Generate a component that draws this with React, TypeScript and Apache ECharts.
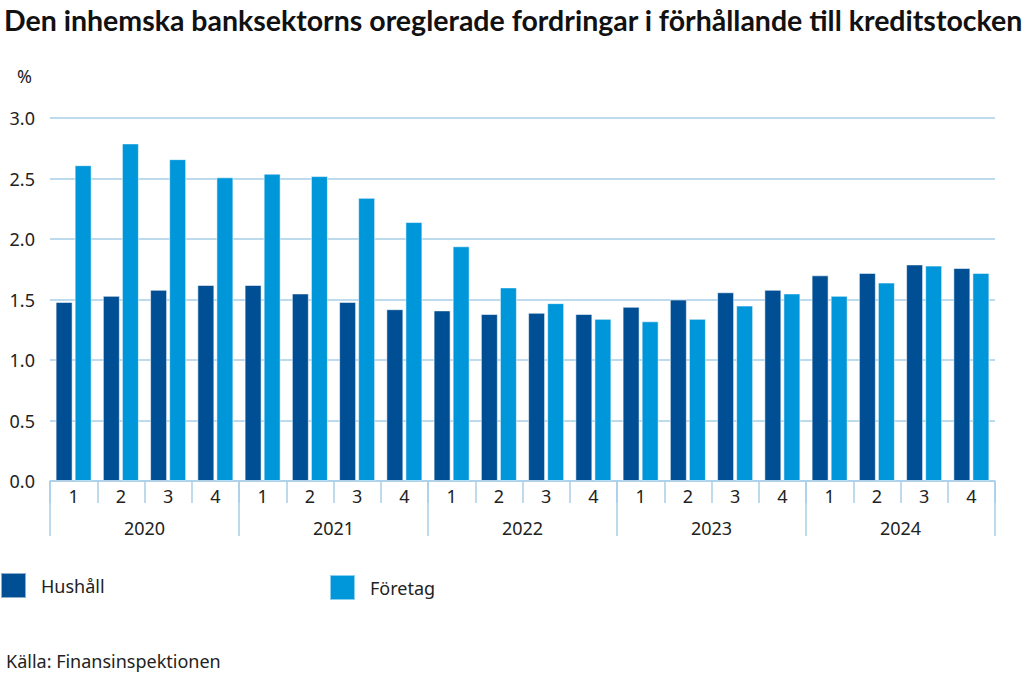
import React, { useEffect, useRef } from "react";
import * as echarts from "echarts";

const quarters = ["1","2","3","4","1","2","3","4","1","2","3","4","1","2","3","4","1","2","3","4"];
const years = ["2020", "2021", "2022", "2023", "2024"];
const hushall = [1.48,1.53,1.58,1.62, 1.62,1.55,1.48,1.42, 1.41,1.38,1.39,1.38, 1.44,1.50,1.56,1.58, 1.70,1.72,1.79,1.76];
const foretag = [2.61,2.79,2.66,2.51, 2.54,2.52,2.34,2.14, 1.94,1.60,1.47,1.34, 1.32,1.34,1.45,1.55, 1.53,1.64,1.78,1.72];
const yTicks = [0, 0.5, 1, 1.5, 2, 2.5, 3];

const DARK = "#004f95";
const LIGHT = "#0096da";
const GRID = "#a9cfe8";
const FONT = "'Noto Sans', sans-serif";
const FS = 18;

export default function App() {
  const ref = useRef<HTMLDivElement>(null);
  useEffect(() => {
    const chart = echarts.init(ref.current!, null, { renderer: "svg" });
    chart.setOption({
      animation: false,
      backgroundColor: "#ffffff",
      textStyle: { fontFamily: FONT },
      title: [
        {
          text: "Den inhemska banksektorns oreglerade fordringar i förhållande till kreditstocken",
          left: -1,
          top: 0,
          textStyle: { fontFamily: "Lato, sans-serif", fontWeight: "bold", fontSize: 28.5, color: "#111" },
        },
        {
          text: "%",
          left: 12,
          top: 62,
          textStyle: { fontFamily: FONT, fontWeight: "normal", fontSize: FS, color: "#222" },
        },
        {
          text: "Källa: Finansinspektionen",
          left: 1,
          top: 647,
          textStyle: { fontFamily: FONT, fontWeight: "normal", fontSize: FS, color: "#222" },
        },
      ],
      legend: [
        {
          data: ["Hushåll"],
          left: 0,
          top: 572,
          itemWidth: 25,
          itemHeight: 25,
          itemGap: 0,
          icon: "rect",
          textStyle: { fontFamily: FONT, fontSize: FS, color: "#222", padding: [0, 0, 0, 10] },
          padding: 0,
        },
        {
          data: ["Företag"],
          left: 329,
          top: 574,
          itemWidth: 25,
          itemHeight: 25,
          itemGap: 0,
          icon: "rect",
          textStyle: { fontFamily: FONT, fontSize: FS, color: "#222", padding: [0, 0, 0, 10] },
          padding: 0,
        },
      ],
      grid: { left: 50, right: 32, top: 118, bottom: 200, containLabel: false },
      xAxis: [
        {
          type: "category",
          data: quarters,
          position: "bottom",
          axisLine: { show: true, lineStyle: { color: GRID, width: 1.5 } },
          axisTick: { show: true, interval: 0, length: 22, lineStyle: { color: GRID, width: 1.5 } },
          axisLabel: { interval: 0, margin: 6, fontSize: FS, color: "#222", fontFamily: FONT },
        },
        {
          type: "category",
          data: years,
          position: "bottom",
          axisLine: { show: false },
          axisTick: { show: true, interval: 0, length: 55, lineStyle: { color: GRID, width: 1.5 } },
          axisLabel: { interval: 0, margin: 38, fontSize: FS, color: "#222", fontFamily: FONT },
        },
      ],
      yAxis: {
        type: "value",
        min: 0,
        max: 3,
        interval: 0.5,
        axisLine: { show: false },
        axisTick: { show: false },
        axisLabel: {
          margin: 15,
          fontSize: FS,
          color: "#222",
          fontFamily: FONT,
          formatter: (v: number) => (yTicks.includes(v) ? v.toFixed(1) : ""),
        },
        splitLine: { show: true, lineStyle: { color: GRID, width: 1.5 } },
      },
      series: [
        {
          name: "Hushåll",
          type: "bar",
          data: hushall,
          barWidth: 17,
          barGap: "12%",
          itemStyle: { color: DARK, borderColor: "rgba(255,255,255,0.55)", borderWidth: 1 },
        },
        {
          name: "Företag",
          type: "bar",
          data: foretag,
          barWidth: 17,
          itemStyle: { color: LIGHT, borderColor: "rgba(255,255,255,0.55)", borderWidth: 1 },
        },
      ],
    });
    return () => chart.dispose();
  }, []);
  return (
    <div
      ref={ref}
      style={{ position: "fixed", left: 0, top: 0, width: 1027, height: 681, background: "#fff" }}
    />
  );
}
